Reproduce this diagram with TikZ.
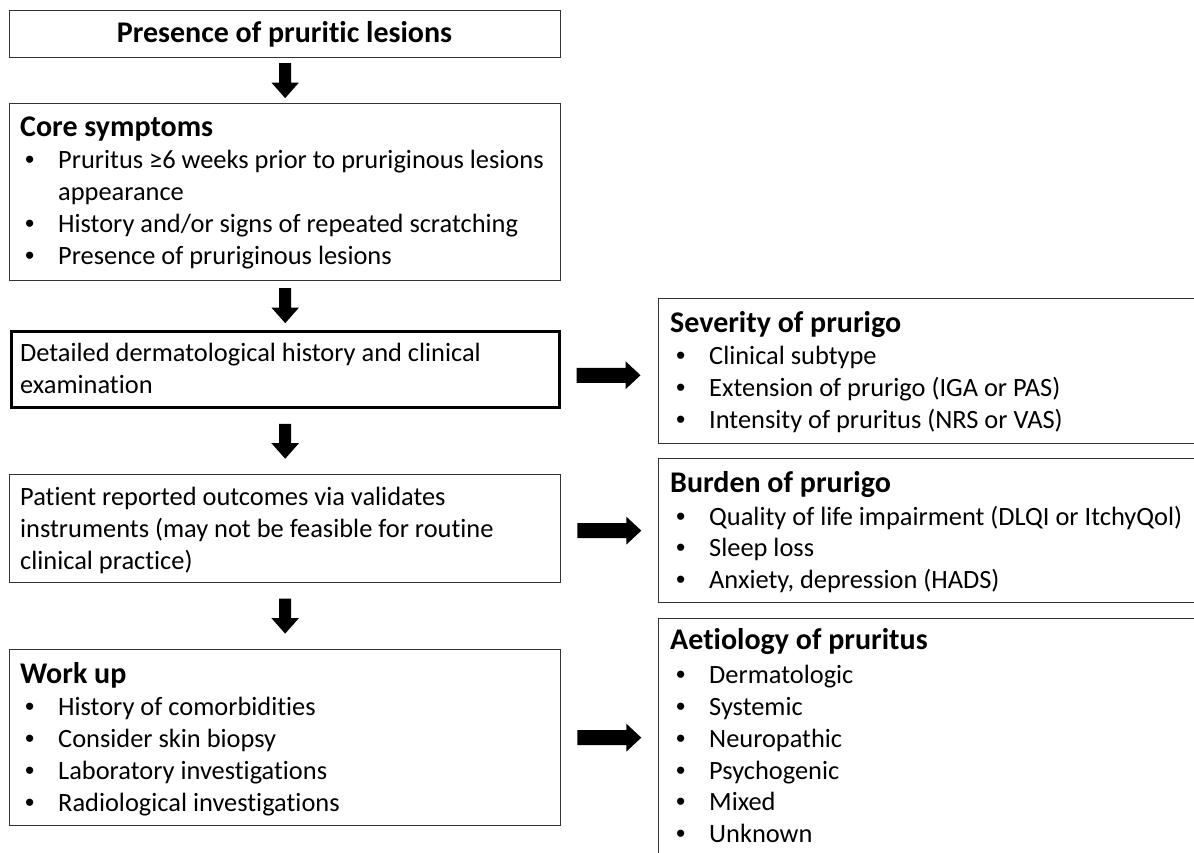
\documentclass[tikz,border=0pt]{standalone}
\usepackage{fontspec}
\setmainfont{Carlito}[RawFeature={-liga;-clig;-dlig}]
\newfontfamily\bulletfont{Liberation Sans}
\usetikzlibrary{calc}

\tikzset{
  box/.style={draw=black!80, line width=1.3pt, inner sep=0pt, anchor=north west},
  boldbox/.style={box, draw=black, line width=2.5pt},
  txt/.style={anchor=base west, inner sep=0pt, font=\fontsize{26.4}{32}\selectfont},
  head/.style={txt, font=\fontsize{30}{36}\selectfont\bfseries},
  blockarrow/.style={fill=black},
}

% bullet followed by the item text
\newcommand\itm[1]{\makebox[33pt][l]{\bulletfont •}#1}

% thick vertical block arrow centred in the gap between two stacked nodes
\newcommand\vblock[2]{%
  \fill[blockarrow] ($(#1.south)!0.5!(#2.north)+(0,-17.5)$) ++(-6,0)
    -- ++(12,0) -- ++(0,19.4) -- ++(7.8,0) -- ++(-13.8,15.6)
    -- ++(-13.8,-15.6) -- ++(7.8,0) -- cycle;}

% thick horizontal block arrow leaving a node to the right (#2: vertical shift)
\newcommand\hblock[2]{%
  \fill[blockarrow] ($(#1.east)+(16,#2)$) ++(0,-7.5)
    -- ++(49,0) -- ++(0,-6.5) -- ++(15,14) -- ++(-15,14)
    -- ++(0,-6.5) -- ++(-49,0) -- cycle;}

\begin{document}
\begin{tikzpicture}[x=1pt, y=-1pt]
\useasboundingbox (0,0) rectangle (1194,853);
\clip (0,0) rectangle (1194,853);

% ---- left column ----
\node[box, minimum width=551pt, minimum height=47pt]  (b1) at (9,10) {};
\node[box, minimum width=551pt, minimum height=177pt] (b2) at (9,103) {};
\node[boldbox, minimum width=548pt, minimum height=76pt] (b3) at (10,330) {};
\node[box, minimum width=551pt, minimum height=108pt] (b4) at (9,474) {};
\node[box, minimum width=551pt, minimum height=176pt] (b5) at (9,649) {};

% ---- right column ----
\node[box, minimum width=548pt, minimum height=145pt] (r1) at (658,298) {};
\node[box, minimum width=548pt, minimum height=144pt] (r2) at (658,458) {};
\node[box, minimum width=548pt, minimum height=250pt] (r3) at (658,618) {};

% ---- texts ----
\node[head, anchor=base] (t0) at (284.5,43) {Presence of pruritic lesions};

\node[head] (c0) at (20,137) {Core symptoms};
\node[txt] (c1) at (25,169) {\itm{Pruritus ≥6 weeks prior to pruriginous lesions}};
\node[txt] (c2) at (58,201) {appearance};
\node[txt] (c3) at (25,233) {\itm{History and/or signs of repeated scratching}};
\node[txt] (c4) at (25,265) {\itm{Presence of pruriginous lesions}};

\node[txt] (d1) at (20,361) {Detailed dermatological history and clinical};
\node[txt] (d2) at (20,393) {examination};

\node[txt] (p1) at (20,505) {Patient reported outcomes via validates};
\node[txt] (p2) at (20,537) {instruments (may not be feasible for routine};
\node[txt] (p3) at (20,569) {clinical practice)};

\node[head] (w0) at (20,683) {Work up};
\node[txt] (w1) at (25,715) {\itm{History of comorbidities}};
\node[txt] (w2) at (25,747) {\itm{Consider skin biopsy}};
\node[txt] (w3) at (25,779) {\itm{Laboratory investigations}};
\node[txt] (w4) at (25,811) {\itm{Radiological investigations}};

\node[head] (s0) at (670,332) {Severity of prurigo};
\node[txt] (s1) at (676,364) {\itm{Clinical subtype}};
\node[txt] (s2) at (676,396) {\itm{Extension of prurigo (IGA or PAS)}};
\node[txt] (s3) at (676,428) {\itm{Intensity of pruritus (NRS or VAS)}};

\node[head] (u0) at (670,492) {Burden of prurigo};
\node[txt] (u1) at (676,525) {\itm{Quality of life impairment (DLQI or ItchyQol)}};
\node[txt] (u2) at (676,556) {\itm{Sleep loss}};
\node[txt] (u3) at (676,588) {\itm{Anxiety, depression (HADS)}};

\node[head] (a0) at (670,649) {Aetiology of pruritus};
\node[txt] (a1) at (676,683) {\itm{Dermatologic}};
\node[txt] (a2) at (676,715) {\itm{Systemic}};
\node[txt] (a3) at (676,747) {\itm{Neuropathic}};
\node[txt] (a4) at (676,779) {\itm{Psychogenic}};
\node[txt] (a5) at (676,810) {\itm{Mixed}};
\node[txt] (a6) at (676,842) {\itm{Unknown}};

% ---- connectors ----
\vblock{b1}{b2}
\vblock{b2}{b3}
\vblock{b3}{b4}
\vblock{b4}{b5}

\hblock{b3}{6}
\hblock{b4}{2}
\hblock{b5}{0}
\end{tikzpicture}
\end{document}
